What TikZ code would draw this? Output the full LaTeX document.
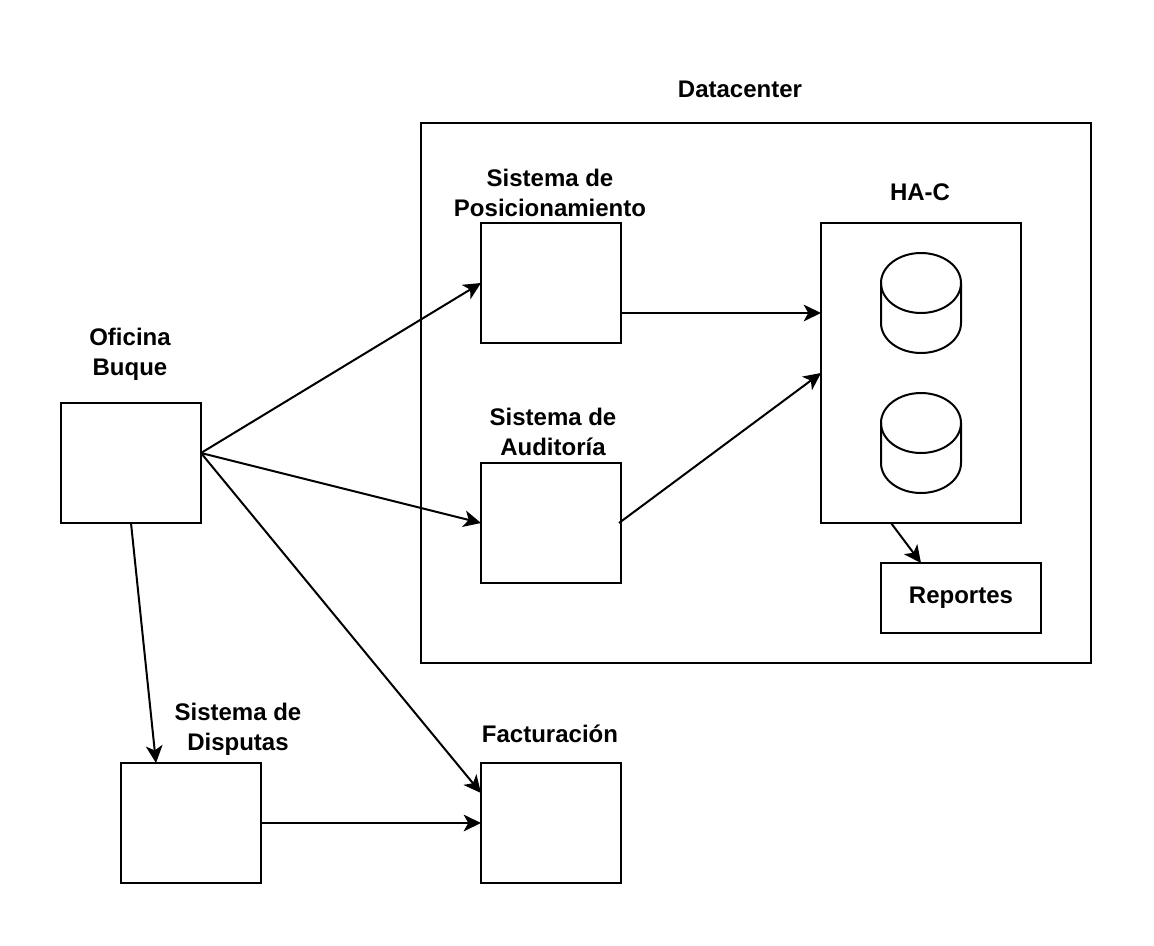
\documentclass[tikz,border=0pt]{standalone}
\usepackage{fontspec}
\setmainfont{Liberation Sans}
\usetikzlibrary{arrows.meta}
\tikzset{
    caja/.style={draw=black, line width=1.5pt, inner sep=0pt, outer sep=0pt, minimum width=#1},
    caja/.default=105pt,
    titulo/.style={align=center, inner sep=0pt, font=\fontsize{18}{22.5}\selectfont\bfseries},
    flecha/.style={black, line width=1.5pt, -{Stealth[length=13pt, width=12.5pt, inset=3.5pt]}}
}
\begin{document}
\begin{tikzpicture}[x=0.75pt, y=-0.75pt]
    \useasboundingbox (0,0) rectangle (1154,946);

    \node[caja=502.5pt, minimum height=405pt] (datacenter) at (756,393) {};
    \node[caja, minimum height=90pt] (posicion) at (551,283) {};
    \node[caja, minimum height=90pt] (auditoria) at (551,523) {};
    \node[caja=150pt, minimum height=225pt] (hac) at (921,373) {};
    \node[caja=120pt, minimum height=52.5pt] (reportes) at (961,598) {};
    \node[caja, minimum height=90pt] (oficina) at (131,463) {};
    \node[caja, minimum height=90pt] (disputas) at (191,823) {};
    \node[caja, minimum height=90pt] (facturacion) at (551,823) {};

    \node[titulo] (tdatacenter) at (740,89) {Datacenter};
    \node[titulo] (tposicion) at (550,192.5) {Sistema de\\Posicionamiento};
    \node[titulo] (tauditoria) at (553,432) {Sistema de\\Auditoría};
    \node[titulo] (thac) at (920,192) {HA-C};
    \node[titulo] (toficina) at (130,354.5) {Oficina\\Buque};
    \node[titulo] (tdisputas) at (238,729) {Sistema de\\Disputas};
    \node[titulo] (tfacturacion) at (550,734) {Facturación};
    \node[titulo] at (reportes) {Reportes};

    % cilindros
    \foreach \y in {283,423} {
        \draw[black, line width=1.5pt] (881,\y) arc[start angle=180, end angle=0, x radius=30pt, y radius=22.5pt]
            -- ++(0,40) arc[start angle=0, end angle=-180, x radius=30pt, y radius=22.5pt] -- cycle;
        \draw[black, line width=1.5pt] (881,\y) arc[start angle=180, end angle=360, x radius=30pt, y radius=22.5pt];
    }

    \coordinate (salida) at (201,453);
    \coordinate (entrapos) at (481,283);
    \coordinate (entrafac) at (481,793);
    \coordinate (entradis) at (156,763);
    \coordinate (salidaaud) at (619,523);
    \coordinate (entrahac) at (821,373);
    \coordinate (salidahac) at (891,523);
    \coordinate (entrarep) at (921,563);
    \coordinate (salidapos) at (621,313);
    \coordinate (entrahacpos) at (821,313);

    \draw[flecha] (salida) -- (entrapos);
    \draw[flecha] (salida) -- (auditoria.west);
    \draw[flecha] (salida) -- (entrafac);
    \draw[flecha] (oficina.south) -- (entradis);
    \draw[flecha] (disputas.east) -- (facturacion.west);
    \draw[flecha] (salidapos) -- (entrahacpos);
    \draw[flecha] (salidaaud) -- (entrahac);
    \draw[flecha] (salidahac) -- (entrarep);
\end{tikzpicture}
\end{document}
